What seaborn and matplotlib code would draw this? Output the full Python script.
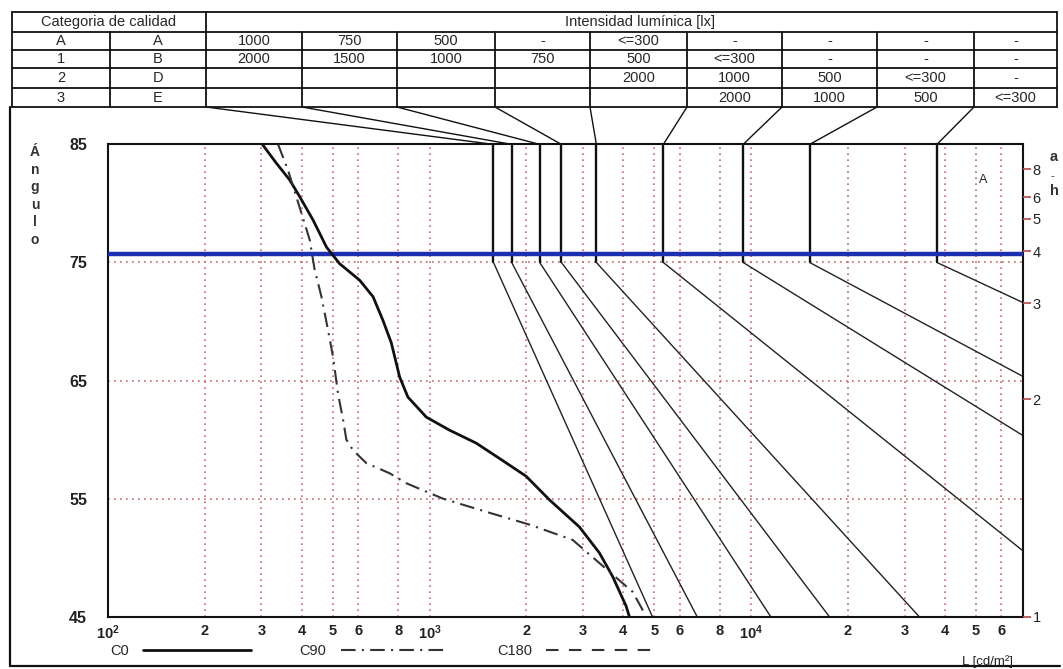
import numpy as np
import pandas as pd
import matplotlib
matplotlib.use("Agg")
import matplotlib.pyplot as plt
import seaborn as sns
from matplotlib.lines import Line2D
from matplotlib.patches import ConnectionPatch
from matplotlib.ticker import NullLocator

# ---------------- data ----------------
quality_col1 = ["A", "1", "2", "3"]
quality_col2 = ["A", "B", "D", "E"]
illum_row_A = ["1000", "750", "500", "-", "<=300", "-", "-", "-", "-"]
illum_row_1 = ["2000", "1500", "1000", "750", "500", "<=300", "-", "-", "-"]
illum_row_2 = ["", "", "", "", "2000", "1000", "500", "<=300", "-"]
illum_row_3 = ["", "", "", "", "", "2000", "1000", "500", "<=300"]

# limiting curves: luminance (cd/m2) held from 85 deg to 75 deg, then straight to value at 45 deg
limit_L_top = [1580, 1800, 2200, 2570, 3300, 5330, 9440, 15200, 37800]
limit_L_45 = [4930, 6790, 11500, 17500, 33300, 126000, 570000, 1750000, 8750000]
angle_top = 85
angle_knee = 75
angle_bottom = 45

c0_angle = [85, 83.4, 82.0, 80.6, 78.6, 76.3, 74.9, 73.5, 72.1, 70.1, 68.2, 65.3,
            63.6, 61.9, 60.8, 59.7, 58.4, 56.9, 54.9, 52.6, 50.4, 48.4, 45.9, 45]
c0_L = [302, 334, 367, 394, 434, 478, 525, 606, 667, 716, 760, 807,
        856, 977, 1153, 1396, 1650, 1995, 2358, 2923, 3373, 3709, 4083, 4180]

c90_angle = [85, 82.8, 79.7, 76.9, 74.4, 72.1, 69.3, 67.0, 63.9, 61.7, 60.0, 59.1,
             58.0, 57.15, 56.3, 55.0, 53.8, 52.8, 51.5, 47.1, 45.6, 45]
c90_L = [338, 363, 394, 424, 439, 461, 483, 501, 519, 538, 551, 578,
         636, 751, 847, 1100, 1535, 2045, 2786, 4280, 4590, 4650]

cutoff_angle = 75.7
ah_ticks = [1, 2, 3, 4, 5, 6, 8]
y_ticks = [45, 55, 65, 75, 85]
x_tick_values = [100, 200, 300, 400, 500, 600, 800,
                 1000, 2000, 3000, 4000, 5000, 6000, 8000,
                 10000, 20000, 30000, 40000, 50000, 60000]
x_tick_labels = ["$10^2$", "2", "3", "4", "5", "6", "8",
                 "$10^3$", "2", "3", "4", "5", "6", "8",
                 "$10^4$", "2", "3", "4", "5", "6"]
legend_labels = ["C0", "C90", "C180"]

# ---------------- style ----------------
sns.set_style("white")
plt.rcParams["font.family"] = ["Liberation Sans", "DejaVu Sans"]
plt.rcParams["mathtext.fontset"] = "custom"
plt.rcParams["mathtext.rm"] = "Liberation Sans"
plt.rcParams["mathtext.default"] = "regular"

W, H = 1063, 669
fig = plt.figure(figsize=(W / 100, H / 100), dpi=100)
fig.patch.set_facecolor("white")


def fx(px):
    return px / W


def fy(py):
    return 1 - py / H


L_LEFT, L_RIGHT, L_TOP, L_BOT = 108, 1023, 144.4, 616.7
ax = fig.add_axes([fx(L_LEFT), fy(L_BOT), (L_RIGHT - L_LEFT) / W, (L_BOT - L_TOP) / H])
ax.set_xscale("log")
ax.set_xlim(100, 70000)
ax.set_ylim(angle_bottom, angle_top)

grid_color = "#c46a6a"
ax.vlines(x_tick_values[1:], angle_bottom, angle_top, colors=grid_color,
          linestyles=(0, (1, 2.6)), lw=1.2, zorder=0.5)
ax.hlines([55, 65, 75], 100, 70000, colors=grid_color,
          linestyles=(0, (1, 2.6)), lw=1.2, zorder=0.5)

# limiting curves
rows_v, rows_s = [], []
for i, (lt, lb) in enumerate(zip(limit_L_top, limit_L_45)):
    rows_v += [(i, lt, angle_top), (i, lt, angle_knee)]
    rows_s += [(i, lt, angle_knee), (i, lb, angle_bottom)]
df_v = pd.DataFrame(rows_v, columns=["curve", "L", "angle"])
df_s = pd.DataFrame(rows_s, columns=["curve", "L", "angle"])
sns.lineplot(data=df_v, x="L", y="angle", units="curve", estimator=None, sort=False,
             color="#111111", lw=1.7, ax=ax, legend=False)
sns.lineplot(data=df_s, x="L", y="angle", units="curve", estimator=None, sort=False,
             color="#222222", lw=1.0, ax=ax, legend=False)

ax.axhline(cutoff_angle, color="#1c2fb0", lw=3.2, zorder=4)

df_c0 = pd.DataFrame({"L": c0_L, "angle": c0_angle})
df_c90 = pd.DataFrame({"L": c90_L, "angle": c90_angle})
c0_style = dict(color="#111111", lw=2.0)
c90_style = dict(color="#333333", lw=1.5, dashes=(7, 3, 1, 3))
c180_style = dict(color="#333333", lw=1.5, dashes=(6, 5))
sns.lineplot(data=df_c0, x="L", y="angle", sort=False, estimator=None, ax=ax,
             color=c0_style["color"], lw=c0_style["lw"], zorder=5)
sns.lineplot(data=df_c90, x="L", y="angle", sort=False, estimator=None, ax=ax,
             color=c90_style["color"], lw=c90_style["lw"], zorder=5)
ax.lines[-1].set_dashes(c90_style["dashes"])

# axes cosmetics
for s in ax.spines.values():
    s.set_color("#111111")
    s.set_linewidth(1.5)
ax.set_xlabel("")
ax.set_ylabel("")
ax.xaxis.set_minor_locator(NullLocator())
ax.set_xticks(x_tick_values, labels=x_tick_labels)
ax.set_yticks(y_ticks, labels=[str(v) for v in y_ticks])
ax.tick_params(axis="x", length=0, pad=5, labelsize=10.5, labelcolor="#222222")
ax.tick_params(axis="y", length=0, pad=15, labelsize=11.5, labelcolor="#222222")
for lbl in ax.get_yticklabels() + ax.get_xticklabels():
    lbl.set_fontweight("bold")

ax2 = ax.twinx()
ax2.set_ylim(angle_bottom, angle_top)
ax2.set_yticks(np.degrees(np.arctan(ah_ticks)), labels=[str(v) for v in ah_ticks])
ax2.tick_params(axis="y", length=6, width=1.3, color="#b85555", pad=1,
                labelsize=10.5, labelcolor="#222222")
for s in ax2.spines.values():
    s.set_visible(False)

ax.text(0.957, 0.925, "A", transform=ax.transAxes, fontsize=9, ha="center", va="center")

# right axis title (a/h)
fig.text(fx(1054), fy(157), "a", fontsize=10.5, ha="center", va="center", fontweight="bold", color="#333333")
fig.text(fx(1052), fy(176), "-", fontsize=8, ha="center", va="center", color="#333333")
fig.text(fx(1054), fy(191), "h", fontsize=10.5, ha="center", va="center", fontweight="bold", color="#333333")

# left axis title
fig.text(fx(35), fy(145), "Á\nn\ng\nu\nl\no", fontsize=10, ha="center", va="top",
         linespacing=1.32, fontweight="bold", color="#333333")

# unit label
fig.text(fx(988), fy(662), "L [cd/m²]", fontsize=9.5, ha="center", va="center", color="#222222")

# legend
handles = [Line2D([], [], **c0_style),
           Line2D([], [], color=c90_style["color"], lw=c90_style["lw"], dashes=c90_style["dashes"]),
           Line2D([], [], color=c180_style["color"], lw=c180_style["lw"], dashes=c180_style["dashes"])]
ax.legend(handles, legend_labels, ncol=3, frameon=False, markerfirst=False,
          handlelength=7.4, handletextpad=1.0, columnspacing=3.3, fontsize=10.5,
          loc="upper left", bbox_to_anchor=(fx(110), fy(644)), bbox_transform=fig.transFigure,
          borderaxespad=0, borderpad=0)

# ---------------- table ----------------
col_x = [12, 110, 206, 302, 397, 495, 590, 687, 782, 877, 974, 1057]
row_y = [12, 32, 50, 68, 88, 107]


def fline(x0, y0, x1, y1, lw=1.3):
    fig.add_artist(Line2D([fx(x0), fx(x1)], [fy(y0), fy(y1)], color="#111111", lw=lw,
                          transform=fig.transFigure))


for y in row_y:
    fline(col_x[0], y, col_x[-1], y)
fline(col_x[0], row_y[0], col_x[0], row_y[-1])
fline(col_x[2], row_y[0], col_x[2], row_y[-1])
fline(col_x[-1], row_y[0], col_x[-1], row_y[-1])
for x in col_x[1:2] + col_x[3:-1]:
    fline(x, row_y[1], x, row_y[-1])

fs_tab = 10.5
fig.text(fx((col_x[0] + col_x[2]) / 2), fy(22), "Categoria de calidad", fontsize=fs_tab,
         ha="center", va="center")
fig.text(fx(640), fy(22), "Intensidad lumínica [lx]", fontsize=fs_tab, ha="center", va="center")
rows = [illum_row_A, illum_row_1, illum_row_2, illum_row_3]
for r in range(4):
    yc = (row_y[r + 1] + row_y[r + 2]) / 2
    fig.text(fx((col_x[0] + col_x[1]) / 2), fy(yc), quality_col1[r], fontsize=fs_tab, ha="center", va="center")
    fig.text(fx((col_x[1] + col_x[2]) / 2), fy(yc), quality_col2[r], fontsize=fs_tab, ha="center", va="center")
    for c, val in enumerate(rows[r]):
        if val:
            fig.text(fx((col_x[c + 2] + col_x[c + 3]) / 2), fy(yc), val, fontsize=fs_tab,
                     ha="center", va="center")

# connectors from table columns to curve tops
for c, lt in enumerate(limit_L_top):
    con = ConnectionPatch(xyA=(fx(col_x[c + 2]), fy(row_y[-1])), coordsA=fig.transFigure,
                          xyB=(lt, angle_top), coordsB=ax.transData,
                          color="#111111", lw=1.0)
    fig.add_artist(con)

# outer frame
fline(10, row_y[-1], 10, 666, lw=1.6)
fline(10, 666, 1060, 666, lw=1.6)

fig.savefig("out.png", dpi=100, facecolor="white")
